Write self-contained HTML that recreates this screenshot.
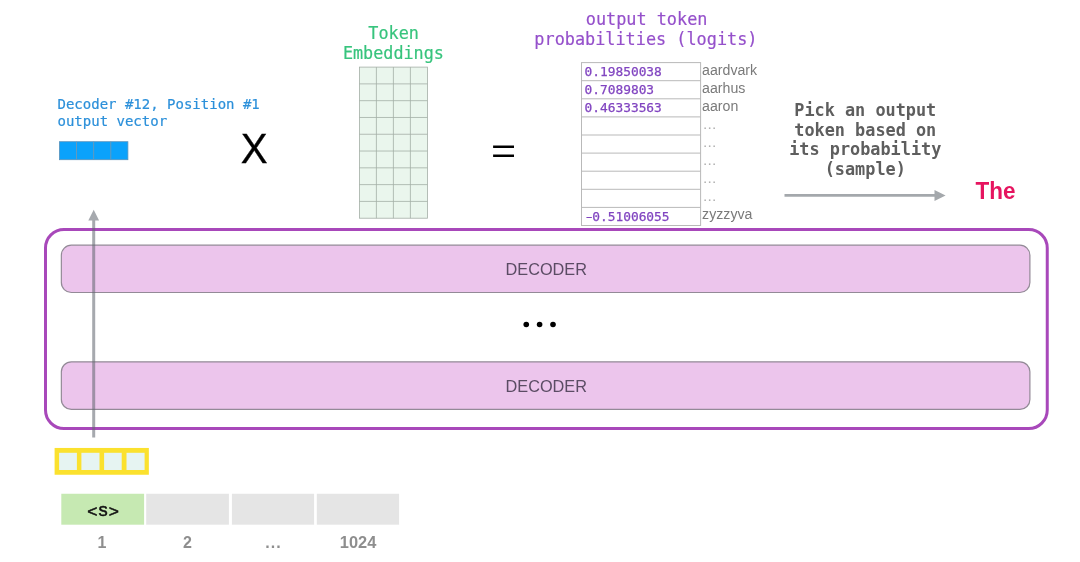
<!DOCTYPE html>
<html lang="en">
<head>
<meta charset="utf-8">
<title>GPT-2 output projection</title>
<style>
html, body { margin: 0; padding: 0; background: #ffffff; }
body { width: 1080px; height: 562px; overflow: hidden; }
svg { display: block; will-change: transform; }
svg text { white-space: pre; }
</style>
</head>
<body>
<svg width="1080" height="562" viewBox="0 0 1080 562">
<rect x="0" y="0" width="1080" height="562" fill="#ffffff"/>
<rect x="359.4" y="67.1" width="68.0" height="151.1" fill="#eaf6ed" stroke="#a3aea6" stroke-width="0.8"/>
<line x1="376.40" y1="67.1" x2="376.40" y2="218.2" stroke="#a3aea6" stroke-width="0.8"/>
<line x1="393.40" y1="67.1" x2="393.40" y2="218.2" stroke="#a3aea6" stroke-width="0.8"/>
<line x1="410.40" y1="67.1" x2="410.40" y2="218.2" stroke="#a3aea6" stroke-width="0.8"/>
<line x1="359.4" y1="83.89" x2="427.4" y2="83.89" stroke="#a3aea6" stroke-width="0.8"/>
<line x1="359.4" y1="100.68" x2="427.4" y2="100.68" stroke="#a3aea6" stroke-width="0.8"/>
<line x1="359.4" y1="117.47" x2="427.4" y2="117.47" stroke="#a3aea6" stroke-width="0.8"/>
<line x1="359.4" y1="134.26" x2="427.4" y2="134.26" stroke="#a3aea6" stroke-width="0.8"/>
<line x1="359.4" y1="151.04" x2="427.4" y2="151.04" stroke="#a3aea6" stroke-width="0.8"/>
<line x1="359.4" y1="167.83" x2="427.4" y2="167.83" stroke="#a3aea6" stroke-width="0.8"/>
<line x1="359.4" y1="184.62" x2="427.4" y2="184.62" stroke="#a3aea6" stroke-width="0.8"/>
<line x1="359.4" y1="201.41" x2="427.4" y2="201.41" stroke="#a3aea6" stroke-width="0.8"/>
<rect x="59.4" y="141.7" width="68.5" height="18.0" fill="#0ba2fb" stroke="#5b93bb" stroke-width="0.8"/>
<line x1="76.53" y1="141.7" x2="76.53" y2="159.7" stroke="#6f98b4" stroke-width="0.9"/>
<line x1="93.65" y1="141.7" x2="93.65" y2="159.7" stroke="#6f98b4" stroke-width="0.9"/>
<line x1="110.78" y1="141.7" x2="110.78" y2="159.7" stroke="#6f98b4" stroke-width="0.9"/>
<rect x="581.5" y="62.6" width="119.10000000000002" height="162.9" fill="#ffffff" stroke="#b9b9b9" stroke-width="1"/>
<line x1="581.5" y1="80.70" x2="700.6" y2="80.70" stroke="#b9b9b9" stroke-width="1"/>
<line x1="581.5" y1="98.80" x2="700.6" y2="98.80" stroke="#b9b9b9" stroke-width="1"/>
<line x1="581.5" y1="116.90" x2="700.6" y2="116.90" stroke="#b9b9b9" stroke-width="1"/>
<line x1="581.5" y1="135.00" x2="700.6" y2="135.00" stroke="#b9b9b9" stroke-width="1"/>
<line x1="581.5" y1="153.10" x2="700.6" y2="153.10" stroke="#b9b9b9" stroke-width="1"/>
<line x1="581.5" y1="171.20" x2="700.6" y2="171.20" stroke="#b9b9b9" stroke-width="1"/>
<line x1="581.5" y1="189.30" x2="700.6" y2="189.30" stroke="#b9b9b9" stroke-width="1"/>
<line x1="581.5" y1="207.40" x2="700.6" y2="207.40" stroke="#b9b9b9" stroke-width="1"/>
<rect x="45.5" y="229.5" width="1001.75" height="199.0" rx="18.5" ry="18.5" fill="#ffffff" stroke="#a848ba" stroke-width="3.0"/>
<rect x="61.35" y="245.2" width="968.55" height="47.300000000000026" rx="10" ry="10" fill="#ecc5ec" stroke="#938a97" stroke-width="1.2"/>
<rect x="61.35" y="361.8" width="968.55" height="47.60000000000001" rx="10" ry="10" fill="#ecc5ec" stroke="#938a97" stroke-width="1.2"/>
<circle cx="526.25" cy="324.5" r="2.8" fill="#000"/>
<circle cx="539.6" cy="324.5" r="2.8" fill="#000"/>
<circle cx="553.0" cy="324.5" r="2.8" fill="#000"/>
<g opacity="0.57"><path d="M92.2,437.5 L92.2,220.6 L88.3,220.6 L93.7,209.7 L99.1,220.6 L95.2,220.6 L95.2,437.5 Z" fill="#626870"/></g>
<line x1="784.5" y1="195.4" x2="936" y2="195.4" stroke="#a4a8ac" stroke-width="2.8"/><polygon points="945.6,195.5 934.5,189.9 934.5,201.1" fill="#a4a8ac"/>
<rect x="54.6" y="447.95" width="94.25" height="26.80000000000001" fill="#fbe12e"/>
<rect x="59.1" y="452.8" width="17.800000000000004" height="17.2" fill="#e6f4f2"/>
<rect x="81.4" y="452.8" width="18.099999999999994" height="17.2" fill="#e6f4f2"/>
<rect x="104.1" y="452.8" width="17.60000000000001" height="17.2" fill="#e6f4f2"/>
<rect x="126.5" y="452.8" width="18.099999999999994" height="17.2" fill="#e6f4f2"/>
<rect x="61.3" y="493.75" width="82.80" height="30.95" fill="#c6e9b2"/>
<rect x="146.2" y="493.75" width="82.70" height="30.95" fill="#e5e5e5"/>
<rect x="231.9" y="493.75" width="82.20" height="30.95" fill="#e5e5e5"/>
<rect x="316.8" y="493.75" width="82.30" height="30.95" fill="#e5e5e5"/>
<text x="57.5" y="108.6" font-family='"DejaVu Sans Mono", "Liberation Mono", monospace' font-size="14" font-weight="normal" fill="#2c90da" text-anchor="start" stroke="#2c90da" stroke-width="0.2">Decoder #12, Position #1</text>
<text x="57.5" y="126.0" font-family='"DejaVu Sans Mono", "Liberation Mono", monospace' font-size="14" font-weight="normal" fill="#2c90da" text-anchor="start" stroke="#2c90da" stroke-width="0.2">output vector</text>
<text x="0" y="0" font-family='"Liberation Sans", "DejaVu Sans", sans-serif' font-size="43.3" font-weight="normal" fill="#000" text-anchor="start" transform="translate(240.8,162.6) scale(0.93,1)" stroke="#000" stroke-width="0.35">X</text>
<text x="0" y="0" font-family='"Liberation Sans", "DejaVu Sans", sans-serif' font-size="41" font-weight="normal" fill="#000" text-anchor="start" transform="translate(491.1,163.45) scale(1.05,0.87)">=</text>
<text x="393.6" y="38.75" font-family='"DejaVu Sans Mono", "Liberation Mono", monospace' font-size="16.8" font-weight="normal" fill="#37c47d" text-anchor="middle" stroke="#37c47d" stroke-width="0.2">Token</text>
<text x="393.4" y="58.75" font-family='"DejaVu Sans Mono", "Liberation Mono", monospace' font-size="16.8" font-weight="normal" fill="#37c47d" text-anchor="middle" stroke="#37c47d" stroke-width="0.2">Embeddings</text>
<text x="646.6" y="25.2" font-family='"DejaVu Sans Mono", "Liberation Mono", monospace' font-size="16.85" font-weight="normal" fill="#9550cb" text-anchor="middle" stroke="#9550cb" stroke-width="0.2">output token</text>
<text x="645.9" y="44.9" font-family='"DejaVu Sans Mono", "Liberation Mono", monospace' font-size="16.85" font-weight="normal" fill="#9550cb" text-anchor="middle" stroke="#9550cb" stroke-width="0.2">probabilities (logits)</text>
<text x="584.5" y="75.8" font-family='"DejaVu Sans Mono", "Liberation Mono", monospace' font-size="12.85" font-weight="normal" fill="#8044c0" text-anchor="start" stroke="#8044c0" stroke-width="0.25">0.19850038</text>
<text x="584.5" y="93.9" font-family='"DejaVu Sans Mono", "Liberation Mono", monospace' font-size="12.85" font-weight="normal" fill="#8044c0" text-anchor="start" stroke="#8044c0" stroke-width="0.25">0.7089803</text>
<text x="584.5" y="112.0" font-family='"DejaVu Sans Mono", "Liberation Mono", monospace' font-size="12.85" font-weight="normal" fill="#8044c0" text-anchor="start" stroke="#8044c0" stroke-width="0.25">0.46333563</text>
<text x="0" y="0" font-family='"DejaVu Sans Mono", "Liberation Mono", monospace' font-size="12.85" font-weight="normal" fill="#8044c0" text-anchor="start" transform="translate(583.2,220.9) scale(1.55,1)" stroke="#8044c0" stroke-width="0.25">-</text>
<text x="592.2357" y="220.9" font-family='"DejaVu Sans Mono", "Liberation Mono", monospace' font-size="12.85" font-weight="normal" fill="#8044c0" text-anchor="start" stroke="#8044c0" stroke-width="0.25">0.51006055</text>
<text x="702.1" y="74.5" font-family='"Liberation Sans", "DejaVu Sans", sans-serif' font-size="14.15" font-weight="normal" fill="#7a7a7a" text-anchor="start" >aardvark</text>
<text x="702.1" y="92.6" font-family='"Liberation Sans", "DejaVu Sans", sans-serif' font-size="14.15" font-weight="normal" fill="#7a7a7a" text-anchor="start" >aarhus</text>
<text x="702.1" y="110.7" font-family='"Liberation Sans", "DejaVu Sans", sans-serif' font-size="14.15" font-weight="normal" fill="#7a7a7a" text-anchor="start" >aaron</text>
<text x="702.1" y="218.7" font-family='"Liberation Sans", "DejaVu Sans", sans-serif' font-size="14.15" font-weight="normal" fill="#7a7a7a" text-anchor="start" >zyzzyva</text>
<text x="703.0" y="128.8" font-family='"Liberation Sans", "DejaVu Sans", sans-serif' font-size="15.5" font-weight="normal" fill="#b0b0b0" text-anchor="start" letter-spacing="0.2">...</text>
<text x="703.0" y="146.9" font-family='"Liberation Sans", "DejaVu Sans", sans-serif' font-size="15.5" font-weight="normal" fill="#b0b0b0" text-anchor="start" letter-spacing="0.2">...</text>
<text x="703.0" y="165.0" font-family='"Liberation Sans", "DejaVu Sans", sans-serif' font-size="15.5" font-weight="normal" fill="#b0b0b0" text-anchor="start" letter-spacing="0.2">...</text>
<text x="703.0" y="183.1" font-family='"Liberation Sans", "DejaVu Sans", sans-serif' font-size="15.5" font-weight="normal" fill="#b0b0b0" text-anchor="start" letter-spacing="0.2">...</text>
<text x="703.0" y="201.2" font-family='"Liberation Sans", "DejaVu Sans", sans-serif' font-size="15.5" font-weight="normal" fill="#b0b0b0" text-anchor="start" letter-spacing="0.2">...</text>
<text x="865.25" y="116.0" font-family='"DejaVu Sans Mono", "Liberation Mono", monospace' font-size="16.85" font-weight="bold" fill="#5e5e5e" text-anchor="middle" >Pick an output</text>
<text x="865.25" y="135.7" font-family='"DejaVu Sans Mono", "Liberation Mono", monospace' font-size="16.85" font-weight="bold" fill="#5e5e5e" text-anchor="middle" >token based on</text>
<text x="865.25" y="154.6" font-family='"DejaVu Sans Mono", "Liberation Mono", monospace' font-size="16.85" font-weight="bold" fill="#5e5e5e" text-anchor="middle" >its probability</text>
<text x="865.25" y="174.5" font-family='"DejaVu Sans Mono", "Liberation Mono", monospace' font-size="16.85" font-weight="bold" fill="#5e5e5e" text-anchor="middle" >(sample)</text>
<text x="0" y="0" font-family='"Liberation Sans", "DejaVu Sans", sans-serif' font-size="23.8" font-weight="bold" fill="#e6145f" text-anchor="start" transform="translate(975.5,198.9) scale(0.945,1)">The</text>
<text x="546.25" y="275.0" font-family='"Liberation Sans", "DejaVu Sans", sans-serif' font-size="16.3" font-weight="normal" fill="#5b4c64" text-anchor="middle" >DECODER</text>
<text x="546.25" y="391.75" font-family='"Liberation Sans", "DejaVu Sans", sans-serif' font-size="16.3" font-weight="normal" fill="#5b4c64" text-anchor="middle" >DECODER</text>
<text x="103.0" y="516.3" font-family='"Liberation Sans", "DejaVu Sans", sans-serif' font-size="18.4" fill="#111" stroke="#111" stroke-width="0.5" text-anchor="middle"><tspan font-size="17.4" dy="0.9">&lt;</tspan><tspan dy="-0.9" dx="1.1">s</tspan><tspan font-size="17.4" dy="0.9" dx="1.1">&gt;</tspan></text>
<text x="102.0" y="547.5" font-family='"Liberation Sans", "DejaVu Sans", sans-serif' font-size="16" font-weight="bold" fill="#8e8e8e" text-anchor="middle" >1</text>
<text x="187.5" y="547.5" font-family='"Liberation Sans", "DejaVu Sans", sans-serif' font-size="16" font-weight="bold" fill="#8e8e8e" text-anchor="middle" >2</text>
<text x="273.6" y="547.5" font-family='"Liberation Sans", "DejaVu Sans", sans-serif' font-size="16" font-weight="bold" fill="#8e8e8e" text-anchor="middle" letter-spacing="1.1">...</text>
<text x="358.1" y="547.5" font-family='"Liberation Sans", "DejaVu Sans", sans-serif' font-size="16.4" font-weight="bold" fill="#8e8e8e" text-anchor="middle" >1024</text>
</svg>
</body>
</html>
